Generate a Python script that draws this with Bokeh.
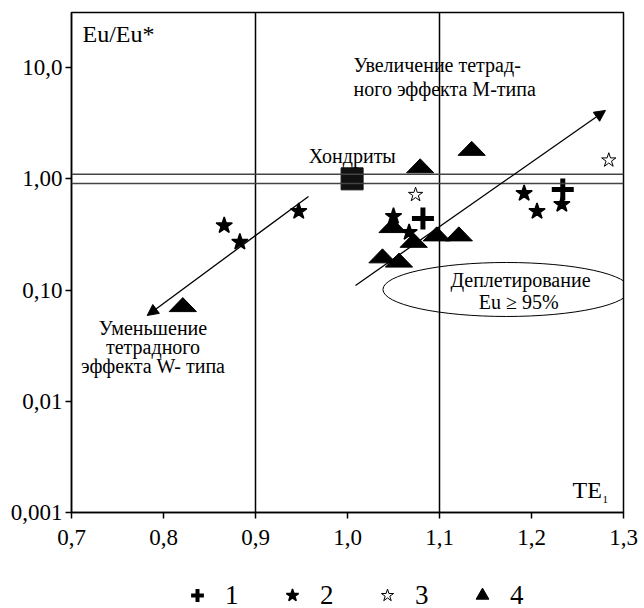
from bokeh.plotting import figure
from bokeh.layouts import column
from bokeh.models import FixedTicker, Span, Arrow, NormalHead, Legend, LegendItem
from bokeh.core.properties import value
from bokeh.embed import file_html
from bokeh.resources import INLINE

# ---- data (TE1 vs Eu/Eu*) ----
# series 1 (+)
s1_te = [1.082, 1.234]
s1_eu = [0.44, 0.80]
# series 2 (filled asterisk)
s2_te = [0.866, 0.883, 0.947, 1.050, 1.067, 1.192, 1.206, 1.233]
s2_eu = [0.38, 0.27, 0.51, 0.46, 0.33, 0.74, 0.51, 0.59]
# series 3 (open asterisk)
s3_te = [1.074, 1.284]
s3_eu = [0.72, 1.47]
# series 4 (triangles)
s4_te = [0.821, 1.038, 1.049, 1.056, 1.072, 1.079, 1.097, 1.121, 1.135]
s4_eu = [0.074, 0.203, 0.38, 0.186, 0.28, 1.31, 0.32, 0.32, 1.88]
# chondrites
ch_te = [1.005]
ch_eu = [1.0]

x_ticks = [0.7, 0.8, 0.9, 1.0, 1.1, 1.2, 1.3]
x_tick_labels = ["0,7", "0,8", "0,9", "1,0", "1,1", "1,2", "1,3"]
y_ticks = [0.001, 0.01, 0.1, 1, 10]
y_tick_labels = ["0,001", "0,01", "0,10", "1,00", "10,0"]
legend_labels = ["1", "2", "3", "4"]

FONT = "Liberation Serif"

p = figure(width=644, height=560, y_axis_type="log",
           x_range=(0.7, 1.3), y_range=(0.001, 31.3),
           output_backend="svg", toolbar_location=None,
           min_border_left=71, min_border_right=21,
           min_border_top=12, min_border_bottom=48)
p.grid.visible = False
p.outline_line_color = "black"
p.outline_line_width = 1.5
p.background_fill_color = "white"
p.border_fill_color = "white"

for ax in (p.xaxis[0], p.yaxis[0]):
    ax.axis_line_width = 1.5
    ax.axis_line_color = "black"
    ax.major_tick_out = 6
    ax.major_tick_in = 0
    ax.major_tick_line_width = 1.5
    ax.minor_tick_line_color = None
    ax.major_label_text_font = FONT
    ax.major_label_text_font_size = "23px"
    ax.major_label_text_color = "black"

p.xaxis.ticker = FixedTicker(ticks=x_ticks)
p.xaxis.major_label_overrides = dict(zip(x_ticks, x_tick_labels))
p.xaxis.major_label_standoff = 11
p.yaxis.ticker = FixedTicker(ticks=y_ticks)
p.yaxis.major_label_overrides = dict(zip(y_ticks, y_tick_labels))
p.yaxis.major_label_standoff = 3

# reference lines
for xv in (0.9, 1.1):
    p.add_layout(Span(location=xv, dimension="height", line_color="black", line_width=1.5))
for yv in (1.1, 0.91):
    p.add_layout(Span(location=yv, dimension="width", line_color="#444444", line_width=1.5))

# arrows
p.add_layout(Arrow(x_start=1.0087, y_start=0.110, x_end=1.2804, y_end=4.12,
                   line_width=1.3, line_color="black",
                   end=NormalHead(size=11, fill_color="black", line_color="black", line_width=1)))
p.add_layout(Arrow(x_start=0.9576, y_start=0.695, x_end=0.7823, y_end=0.0591,
                   line_width=1.3, line_color="black",
                   end=NormalHead(size=11, fill_color="black", line_color="black", line_width=1)))

# ellipse
p.ellipse(x=[1.1728], y=[0.1012], width=[0.2685], height=[54], height_units="screen",
          fill_alpha=0, line_color="black", line_width=1)

# markers
hw = 0.0148
f = 10 ** (7 / 111.2)
tri_xs = [[x - hw, x + hw, x] for x in s4_te]
tri_ys = [[y / f, y / f, y * f] for y in s4_eu]
p.patches(tri_xs, tri_ys, fill_color="black", line_color="black")

p.scatter(ch_te, ch_eu, marker="square", size=22, fill_color="#111111", line_color="#111111")
p.scatter(s1_te, s1_eu, marker="cross", size=22, line_width=5, line_color="black")
p.scatter(s2_te, s2_eu, marker="star", size=17, fill_color="black", line_color="black", line_width=1.5)
p.scatter(s3_te, s3_eu, marker="star", size=15, fill_color="white", line_color="black", line_width=1)

# texts
p.text(x=[0.712], y=[20.1], text=["Eu/Eu*"], text_font=value(FONT), text_font_size=value("24px"),
       text_baseline="middle", text_align="left", text_color="black")
p.text(x=[0.958], y=[1.62], text=["Хондриты"], text_font=value(FONT), text_font_size=value("20px"),
       text_baseline="middle", text_align="left", text_color="black")
p.text(x=[1.0065, 1.0065], y=[10.58, 6.43], text=["Увеличение тетрад-", "ного эффекта М-типа"],
       text_font=value(FONT), text_font_size=value("20px"),
       text_baseline="middle", text_align="left", text_color="black")
p.text(x=[0.7886, 0.7886, 0.7886], y=[0.0452, 0.0305, 0.0206],
       text=["Уменьшение", "тетрадного", "эффекта W- типа"],
       text_font=value(FONT), text_font_size=value("20px"),
       text_baseline="middle", text_align="center", text_color="black")
p.text(x=[1.188, 1.186], y=[0.122, 0.0782], text=["Деплетирование", "Eu ≥ 95%"],
       text_font=value(FONT), text_font_size=value("20px"),
       text_baseline="middle", text_align="center", text_color="black")
p.text(x=[1.2446], y=[0.00158], text=["TE"], text_font=value(FONT), text_font_size=value("24px"),
       text_baseline="middle", text_align="left", text_color="black")
p.text(x=[1.2772], y=[0.00131], text=["1"], text_font=value(FONT), text_font_size=value("11px"),
       text_baseline="middle", text_align="left", text_color="black")

# ---- legend strip below the chart (hidden copies of the series feed the legend glyphs) ----
lf = figure(width=644, height=48, x_range=(0.7, 1.3), y_range=(0, 1),
            output_backend="svg", toolbar_location=None, min_border=0)
lf.axis.visible = False
lf.grid.visible = False
lf.outline_line_color = None
l1 = lf.scatter(s1_te, s1_eu, marker="cross", line_width=4, line_color="black", visible=False)
l2 = lf.scatter(s2_te, s2_eu, marker="star", fill_color="black", line_color="black",
                line_width=1.5, visible=False)
l3 = lf.scatter(s3_te, s3_eu, marker="star", fill_color="white", line_color="black",
                line_width=1, visible=False)
l4 = lf.scatter(s4_te, s4_eu, marker="triangle", fill_color="black", line_color="black", visible=False)
legend = Legend(items=[LegendItem(label=legend_labels[0], renderers=[l1]),
                       LegendItem(label=legend_labels[1], renderers=[l2]),
                       LegendItem(label=legend_labels[2], renderers=[l3]),
                       LegendItem(label=legend_labels[3], renderers=[l4])],
                orientation="horizontal", location=(109, -3),
                glyph_width=34, glyph_height=32, label_standoff=11, label_width=14, spacing=36,
                padding=0, margin=0, border_line_alpha=0, background_fill_alpha=0,
                inactive_fill_alpha=0,
                label_text_font=FONT, label_text_font_size="27px", label_text_color="black")
lf.add_layout(legend)

layout = column(p, lf, spacing=0)
open("out.html", "w").write(file_html(layout, INLINE))
